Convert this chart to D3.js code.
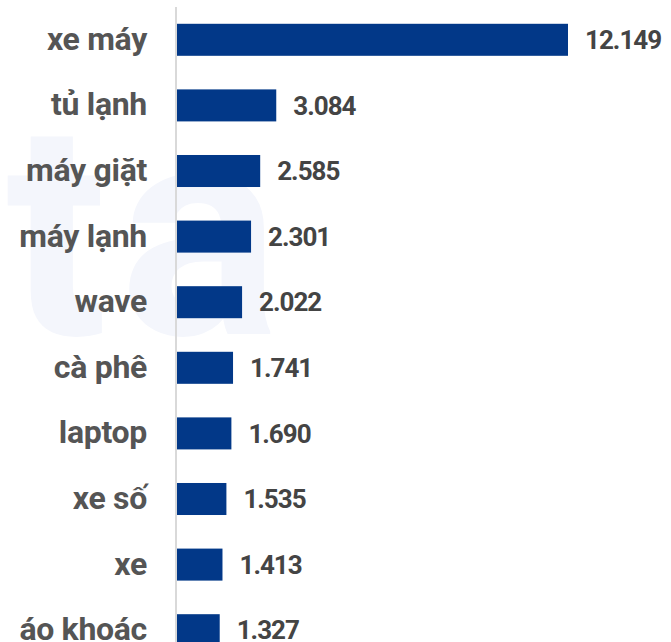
<!DOCTYPE html>
<html><head><meta charset="utf-8">
<script src="https://cdn.jsdelivr.net/npm/d3@7"></script>
<style>html,body{margin:0;padding:0;background:#fff;}svg{display:block;}</style>
</head><body>
<script>
const categories = ["xe máy","tủ lạnh","máy giặt","máy lạnh","wave","cà phê","laptop","xe số","xe","áo khoác"];
const values = [12149, 3084, 2585, 2301, 2022, 1741, 1690, 1535, 1413, 1327];

const W = 671, H = 642;
const svg = d3.select("body").append("svg").attr("width", W).attr("height", H);

svg.append("text").attr("x", 6).attr("y", 334)
  .attr("font-family", "Roboto").attr("font-weight", 700).attr("font-size", 300)
  .attr("fill", "#f4f6fc").attr("letter-spacing", 12).text("ta");

const x = d3.scaleLinear().domain([0, 12149]).range([177, 568]);
const y = d3.scaleBand().domain(categories).range([7, 663]).paddingInner(0.512).paddingOuter(0.256);
const fmt = d3.formatLocale({decimal: ",", thousands: ".", grouping: [3], currency: ["", ""]}).format(",");

svg.append("line").attr("x1", 176).attr("x2", 176).attr("y1", 7).attr("y2", H)
  .attr("stroke", "#d9d9d9").attr("stroke-width", 2);

const data = categories.map((c, i) => ({c, v: values[i]}));

svg.selectAll("rect.bar").data(data).join("rect").attr("class", "bar")
  .attr("x", x(0)).attr("y", d => y(d.c))
  .attr("width", d => x(d.v) - x(0)).attr("height", y.bandwidth())
  .attr("fill", "#023888");

svg.selectAll("text.cat").data(data).join("text").attr("class", "cat")
  .attr("x", 147).attr("y", d => y(d.c) + y.bandwidth() / 2)
  .attr("dy", "0.31em").attr("text-anchor", "end")
  .attr("font-family", "Roboto").attr("font-weight", 700).attr("font-size", 32)
  .attr("letter-spacing", -0.3)
  .attr("fill", "#555").text(d => d.c);

svg.selectAll("text.val").data(data).join("text").attr("class", "val")
  .attr("x", d => x(d.v) + 17).attr("y", d => y(d.c) + y.bandwidth() / 2)
  .attr("dy", "0.35em")
  .attr("font-family", "Roboto").attr("font-weight", 700).attr("font-size", 26)
  .attr("letter-spacing", -1)
  .attr("fill", "#444").text(d => fmt(d.v));
</script>
</body></html>
